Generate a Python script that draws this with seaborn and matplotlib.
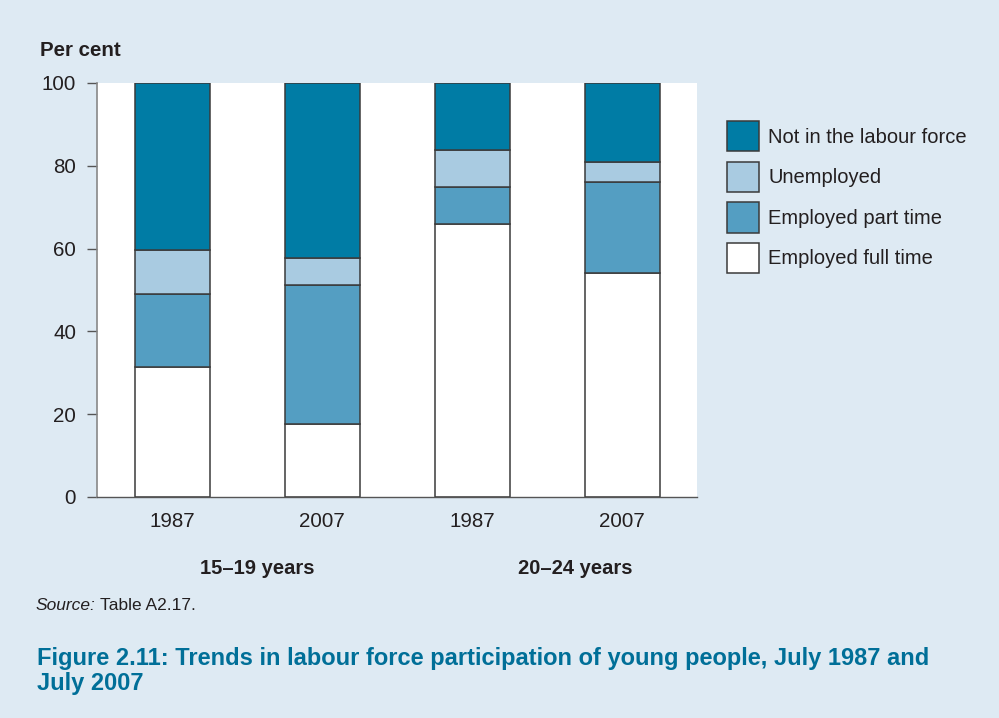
import matplotlib
matplotlib.use("Agg")
import matplotlib.pyplot as plt
import seaborn as sns
import pandas as pd
import numpy as np

# ---- data ----
bar_ids = ["15–19 1987", "15–19 2007", "20–24 1987", "20–24 2007"]
year_labels = ["1987", "2007", "1987", "2007"]
group_labels = ["15–19 years", "20–24 years"]
full_time = [31.4, 17.6, 65.9, 54.1]
part_time = [17.6, 33.6, 9.0, 22.0]
unemployed = [10.7, 6.5, 8.9, 4.8]
not_in_lf = [40.3, 42.3, 16.2, 19.1]
series_names = ["Employed full time", "Employed part time", "Unemployed", "Not in the labour force"]
series_colors = ["#ffffff", "#549ec2", "#a9cbe1", "#007ca5"]

df = pd.DataFrame({
    "bar": bar_ids,
    "Employed full time": full_time,
    "Employed part time": part_time,
    "Unemployed": unemployed,
    "Not in the labour force": not_in_lf,
})

BG = "#deeaf3"
TXT = "#231f20"
TITLE_C = "#006f98"

sns.set_theme(style="white")
plt.rcParams["font.family"] = ["Liberation Sans", "DejaVu Sans"]

fig = plt.figure(figsize=(9.99, 7.18), dpi=100, facecolor=BG)
W, H = 999, 718
ax = fig.add_axes([97 / W, 1 - 497 / H, 600 / W, 414 / H])
ax.set_facecolor("white")

bottom = np.zeros(len(bar_ids))
for name, col in zip(series_names, series_colors):
    sns.barplot(data=df, x="bar", y=name, order=bar_ids, color=col, saturation=1,
                width=0.5, bottom=bottom, edgecolor="#3a3a3a", linewidth=1.1,
                errorbar=None, label=name, ax=ax)
    bottom = bottom + df[name].to_numpy()

ax.set_xlim(-0.5, 3.5)
ax.set_ylim(0, 100)
ax.set_yticks([0, 20, 40, 60, 80, 100])
ax.set_xticks(range(4))
ax.set_xticklabels(year_labels)
ax.set_xlabel("")
ax.set_ylabel("")
ax.tick_params(axis="y", which="both", left=True, length=7, width=1.0, color="#555555",
               pad=8, labelsize=14.8, labelcolor=TXT)
ax.tick_params(axis="x", length=0, pad=11, labelsize=14.8, labelcolor=TXT)
for s in ["top", "right"]:
    ax.spines[s].set_visible(False)
ax.spines["left"].set_color("#888888")
ax.spines["left"].set_linewidth(1.2)
ax.spines["bottom"].set_color("#555555")
ax.spines["bottom"].set_linewidth(1.0)

# legend
handles, labels = ax.get_legend_handles_labels()
leg = ax.legend(handles[::-1], labels[::-1], loc="upper left",
                bbox_to_anchor=(727 / W, 1 - 121 / H), bbox_transform=fig.transFigure,
                frameon=False, borderpad=0, borderaxespad=0, fontsize=14.5,
                handlelength=1.6, handleheight=1.95, handletextpad=0.45, labelspacing=0.5)
for t in leg.get_texts():
    t.set_color(TXT)

# texts
fig.text(40 / W, 1 - 51 / H, "Per cent", ha="left", va="center", fontsize=14.8,
         fontweight="bold", color=TXT)
fig.text(257 / W, 1 - 568 / H, group_labels[0], ha="center", va="center", fontsize=14.5,
         fontweight="bold", color=TXT)
fig.text(575 / W, 1 - 568 / H, group_labels[1], ha="center", va="center", fontsize=14.5,
         fontweight="bold", color=TXT)
t1 = fig.text(36 / W, 1 - 606 / H, "Source:", ha="left", va="center", fontsize=12.5,
              style="italic", color=TXT)
fig.canvas.draw()
bb = t1.get_window_extent()
fig.text((bb.x1 + 4) / W, 1 - 606 / H, "Table A2.17.", ha="left", va="center",
         fontsize=12.5, color=TXT)
fig.text(37 / W, 1 - 671 / H,
         "Figure 2.11: Trends in labour force participation of young people, July 1987 and\nJuly 2007",
         ha="left", va="center", fontsize=17, fontweight="bold", color=TITLE_C,
         linespacing=1.15)

fig.savefig("out.png", dpi=100, facecolor=BG)
